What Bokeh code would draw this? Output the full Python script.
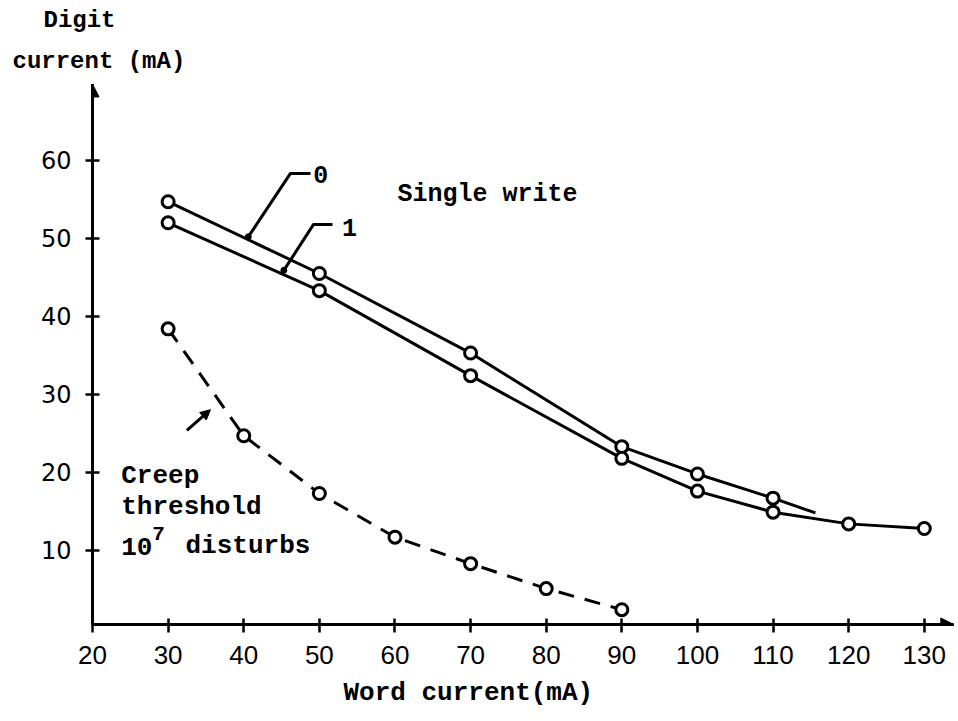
from bokeh.plotting import figure
from bokeh.models import Range1d, FixedTicker, Label, Arrow, NormalHead, Title
from bokeh.embed import file_html
from bokeh.resources import INLINE

# ---- data ----
x_ticks = [20, 30, 40, 50, 60, 70, 80, 90, 100, 110, 120, 130]
y_ticks = [10, 20, 30, 40, 50, 60]

zero_x = [30, 50, 70, 90, 100, 110]
zero_y = [54.7, 45.5, 35.3, 23.3, 19.8, 16.7]
zero_end_x = [115.6]
zero_end_y = [14.8]

one_x = [30, 50, 70, 90, 100, 110, 120, 130]
one_y = [52.0, 43.3, 32.4, 21.8, 17.6, 14.9, 13.4, 12.8]

creep_x = [30, 40, 50, 60, 70, 80, 90]
creep_y = [38.4, 24.7, 17.3, 11.7, 8.3, 5.1, 2.4]

MONO = "Liberation Mono"

p = figure(width=958, height=721,
           x_range=Range1d(20, 133.86), y_range=Range1d(0.5, 69.6),
           min_border_left=92, min_border_right=5,
           min_border_top=85, min_border_bottom=97,
           output_backend="svg", toolbar_location=None)
p.background_fill_color = "white"
p.border_fill_color = "white"
p.outline_line_color = None
p.grid.visible = False

for ax in (p.xaxis[0], p.yaxis[0]):
    ax.axis_line_width = 3
    ax.axis_line_color = "black"
    ax.major_tick_line_width = 2.5
    ax.major_tick_line_color = "black"
    ax.minor_tick_line_color = None
    ax.major_label_text_color = "black"

p.xaxis[0].ticker = FixedTicker(ticks=x_ticks)
p.xaxis[0].major_tick_in = 6
p.xaxis[0].major_tick_out = 8
p.xaxis[0].major_label_standoff = 13
p.xaxis[0].major_label_text_font = "Liberation Sans"
p.xaxis[0].major_label_text_font_size = "26px"

p.yaxis[0].ticker = FixedTicker(ticks=y_ticks)
p.yaxis[0].major_tick_in = 7
p.yaxis[0].major_tick_out = 7
p.yaxis[0].major_label_standoff = 14
p.yaxis[0].major_label_text_font = "DejaVu Sans"
p.yaxis[0].major_label_text_font_size = "24px"

# axis arrow heads
p.add_layout(Arrow(end=NormalHead(size=13, fill_color="black", line_color="black"),
                   x_start=20, y_start=66, x_end=20, y_end=69.8,
                   line_width=3, line_color="black"))
p.add_layout(Arrow(end=NormalHead(size=13, fill_color="black", line_color="black"),
                   x_start=129, y_start=0.5, x_end=133.9, y_end=0.5,
                   line_width=3, line_color="black"))

# curves
p.line(zero_x + zero_end_x, zero_y + zero_end_y, line_width=3, line_color="black")
p.line(one_x, one_y, line_width=3, line_color="black")
p.line(creep_x, creep_y, line_width=3, line_color="black", line_dash="16 11")

for xs, ys in ((zero_x, zero_y), (one_x, one_y), (creep_x, creep_y)):
    p.scatter(xs, ys, marker="circle", size=12, line_width=3,
              line_color="black", fill_color="white")

# leader lines for "0" and "1"
p.line([40.6, 46.18, 48.83], [50.2, 58.33, 58.33], line_width=3, line_color="black")
p.line([45.3, 49.23, 51.74], [45.9, 51.79, 51.79], line_width=3, line_color="black")
p.scatter([40.6, 45.3], [50.2, 45.9], marker="circle", size=6, fill_color="black", line_color="black")

def lab(x, y, text, size="25px", align="left", baseline="middle"):
    p.add_layout(Label(x=x, y=y, text=text, text_font=MONO, text_font_size=size,
                       text_align=align, text_baseline=baseline, text_color="black",
                       text_font_style="bold"))

lab(50.2, 58.2, "0", size="25px", align="center")
lab(53.99, 51.4, "1", size="25px", align="center")
lab(60.33, 55.6, "Single write", size="25px")

# creep annotation
p.add_layout(Arrow(end=NormalHead(size=10, fill_color="black", line_color="black"),
                   x_start=32.48, y_start=25.38, x_end=35.6, y_end=28.04,
                   line_width=3, line_color="black"))
lab(23.8, 19.6, "Creep", size="26px", baseline="alphabetic")
lab(23.8, 15.55, "threshold", size="26px", baseline="alphabetic")
lab(23.8, 10.5, "10", size="26px", baseline="alphabetic")
lab(27.9, 12.2, "7", size="21px", baseline="alphabetic")
lab(32.3, 10.5, "disturbs", size="26px", baseline="alphabetic")

# axis titles (placed in the border panels)
def title(text, where, offset, size, standoff):
    p.add_layout(Title(text=text, align="left", offset=offset, text_font=MONO,
                       text_font_size=size, text_font_style="bold",
                       text_color="black", standoff=standoff), where)

title("current (mA)", "above", -80, "24px", 21)
title("Digit", "above", -49, "24px", 3)
title("Word current(mA)", "below", 251, "26px", 18)

open("out.html", "w").write(file_html(p, INLINE))
